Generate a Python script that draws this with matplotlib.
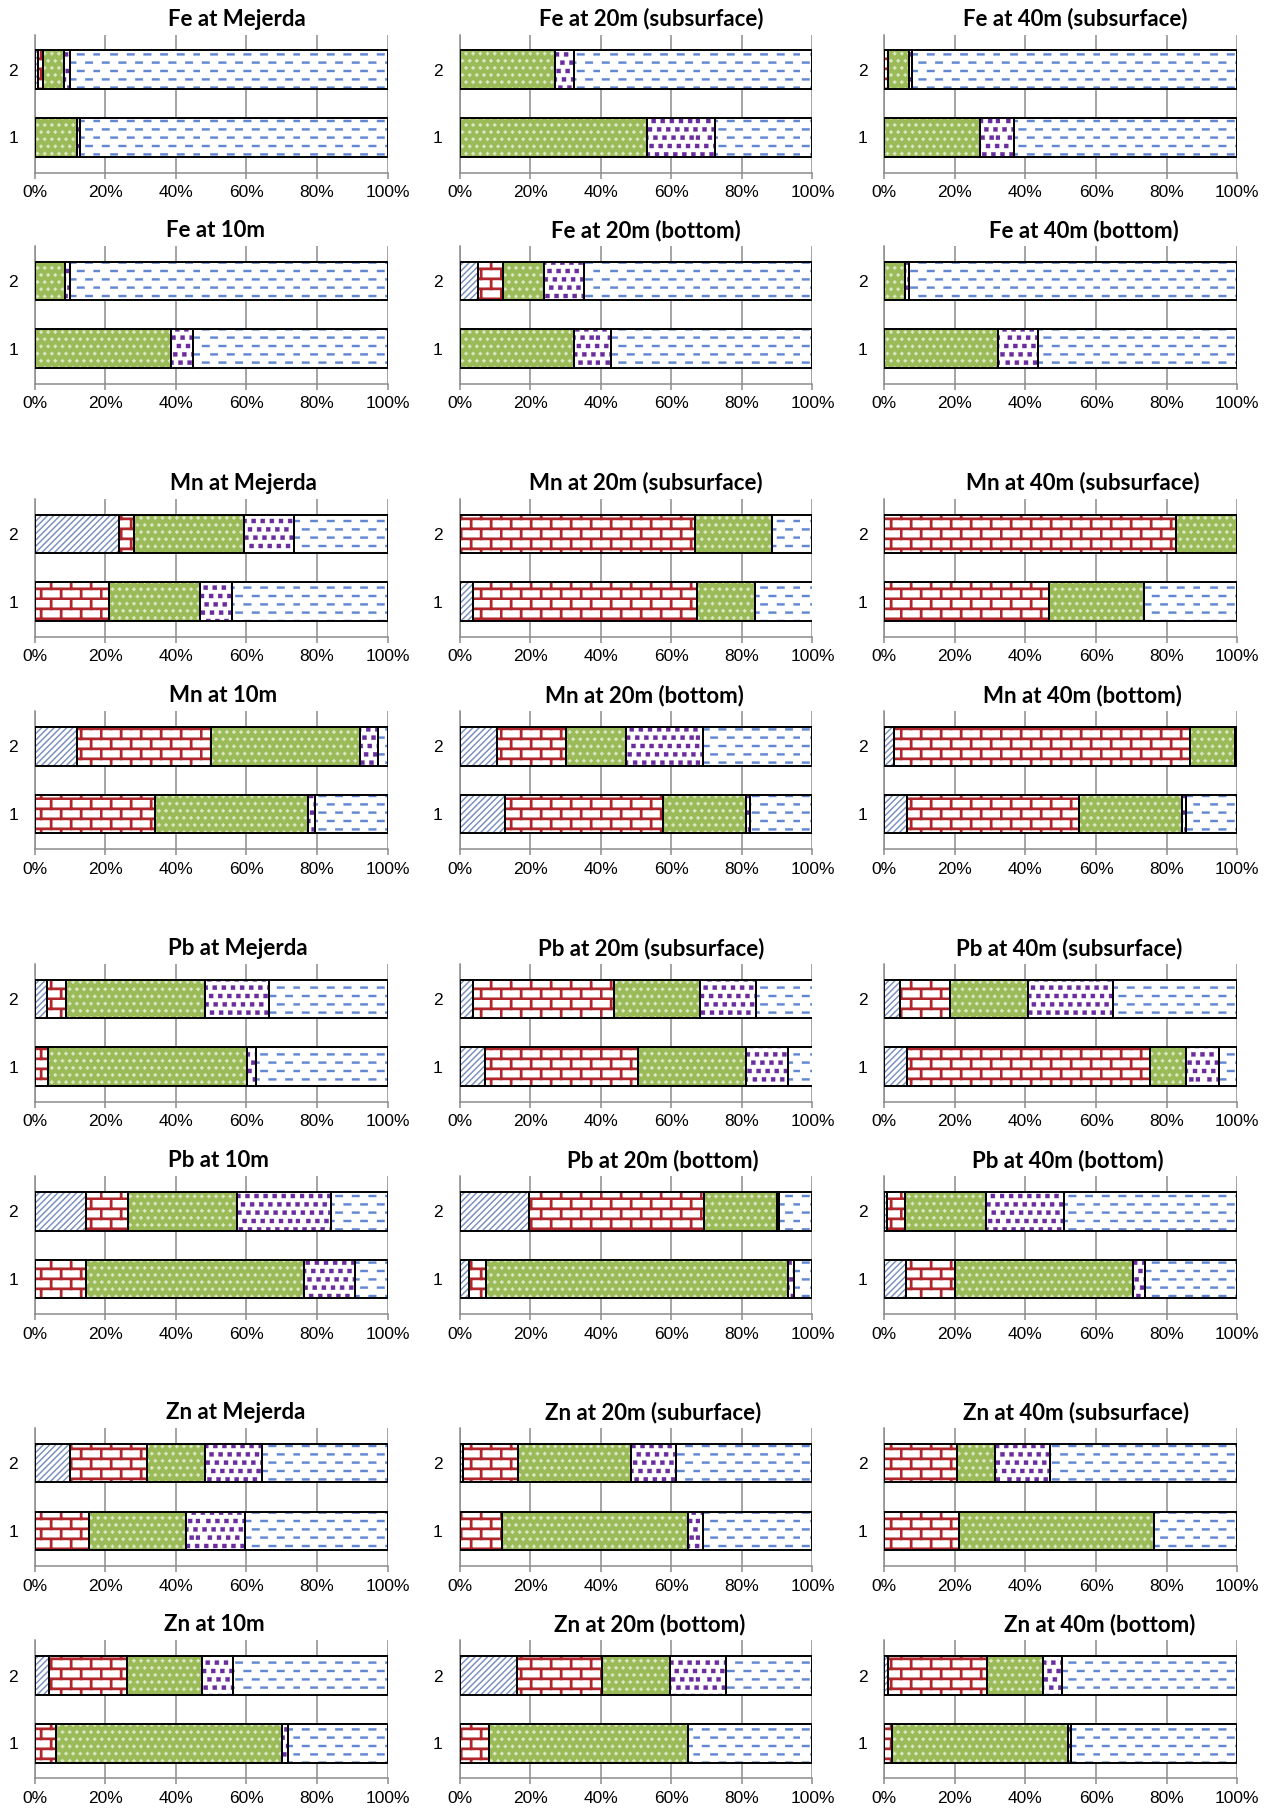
import warnings
import numpy as np
import matplotlib
matplotlib.use("Agg")
import matplotlib.pyplot as plt
from matplotlib import hatch as mhatch
from matplotlib.path import Path

warnings.filterwarnings("ignore")

fractions = ["Exchangeable", "Carbonate", "Fe-Mn oxides", "Organic", "Residual"]

sites = ["Mejerda", "20m (subsurface)", "40m (subsurface)",
         "10m", "20m (bottom)", "40m (bottom)"]
zn_sites = ["Mejerda", "20m (suburface)", "40m (subsurface)",
            "10m", "20m (bottom)", "40m (bottom)"]
metals = ["Fe", "Mn", "Pb", "Zn"]

# % per fraction, bar "1" then bar "2", one row per site
fe_1 = [[0, 0, 12, 1, 87], [0, 0, 53, 19.5, 27.5], [0, 0, 27.2, 9.5, 63.3],
        [0, 0, 38.6, 6.2, 55.2], [0, 0, 32.5, 10.3, 57.2], [0, 0, 32.1, 11.5, 56.4]]
fe_2 = [[1, 1.4, 5.9, 1.6, 90.1], [0, 0, 27, 5.5, 67.5], [0, 1.1, 6, 0.7, 92.2],
        [0, 0, 8.5, 1.5, 90], [5.2, 7.2, 11.6, 11.2, 64.8], [0, 0, 5.9, 1, 93.1]]

mn_1 = [[0, 21.1, 25.7, 9, 44.2], [3.9, 63.4, 16.3, 0, 16.4], [0, 46.6, 26.9, 0, 26.5],
        [0, 34, 43.5, 2, 20.5], [12.9, 44.8, 23.6, 1.1, 17.6], [6.4, 48.8, 29.3, 1.1, 14.4]]
mn_2 = [[23.9, 4.4, 31, 14.1, 26.6], [0, 66.7, 21.9, 0, 11.4], [0, 82.6, 17.4, 0, 0],
        [12.1, 37.9, 42.2, 5.2, 2.6], [10.5, 19.8, 16.8, 21.9, 31], [2.8, 83.9, 12.8, 0.5, 0]]

pb_1 = [[0, 3.9, 56.2, 2.6, 37.3], [7.2, 43.5, 30.4, 12.1, 6.8], [6.4, 68.9, 10.2, 9.3, 5.2],
        [0, 14.7, 61.5, 14.7, 9.1], [2.6, 4.9, 85.6, 1.6, 5.3], [6.2, 13.8, 50.5, 3.4, 26.1]]
pb_2 = [[3.6, 5.2, 39.5, 18, 33.7], [3.9, 39.9, 24.2, 16, 16], [4.6, 14, 22.1, 24.1, 35.2],
        [14.5, 12.1, 30.6, 26.7, 16.1], [19.6, 49.7, 20.6, 0.7, 9.4], [0.9, 5, 22.9, 22.1, 49.1]]

zn_1 = [[0, 15.4, 27.4, 16.7, 40.5], [0, 12, 52.7, 4.2, 31.1], [0, 21.3, 55.1, 0, 23.6],
        [0, 6.2, 64, 1.6, 28.2], [0, 8.4, 56.3, 0, 35.3], [0, 2.3, 49.8, 0.7, 47.2]]
zn_2 = [[9.9, 22, 16.4, 16.1, 35.6], [1.1, 15.4, 32, 12.9, 38.6], [0, 20.7, 10.8, 15.4, 53.1],
        [4, 22.1, 21.3, 8.9, 43.7], [16.2, 24.1, 19.4, 15.9, 24.4], [1, 28.2, 15.7, 5.6, 49.5]]


# Excel-like fill patterns as custom hatches (filled polygons in a unit tile)
class PolyHatch(mhatch.HatchPatternBase):
    char = "?"

    def __init__(self, hatch, density):
        self.polys = self.make() if (hatch and self.char in hatch) else []
        self.num_vertices = 5 * len(self.polys)

    def make(self):
        return []

    def set_vertices_and_codes(self, vertices, codes):
        for k, pts in enumerate(self.polys):
            vertices[5 * k:5 * k + 5] = list(pts) + [pts[0]]
            codes[5 * k:5 * k + 5] = [Path.MOVETO, Path.LINETO, Path.LINETO,
                                      Path.LINETO, Path.CLOSEPOLY]


def rect(x, y, w, h):
    return [(x, y), (x + w, y), (x + w, y + h), (x, y + h)]


class DiagHatch(PolyHatch):
    char = "w"

    def make(self):
        n, w = 16, 0.013
        return [[(c, 0), (c + w, 0), (c + w + 1, 1), (c + 1, 1)]
                for c in np.arange(-1, 1, 1 / n)]


class BrickHatch(PolyHatch):
    char = "b"

    def make(self):
        rows, cols, t = 10, 5, 0.022
        out = []
        for i in range(rows):
            out.append(rect(0, i / rows, 1, t))
            for j in range(cols):
                out.append(rect((j + 0.5 * (i % 2)) / cols, i / rows, t, 1 / rows))
        return out


class CrossHatch(PolyHatch):
    char = "g"

    def make(self):
        rows, cols = 14, 14
        out = []
        for i in range(rows):
            for j in range(cols):
                x = (j + 0.5 * (i % 2) + 0.25) / cols
                y = (i + 0.5) / rows
                out.append(rect(x - 0.016, y - 0.005, 0.032, 0.01))
                out.append(rect(x - 0.005, y - 0.016, 0.01, 0.032))
        return out


class DotHatch(PolyHatch):
    char = "q"

    def make(self):
        rows, cols, s = 12, 11, 0.04
        out = []
        for i in range(rows):
            off = (i * 0.41) % 1
            for j in range(cols):
                x = ((j + off) / cols) % 1
                out.append(rect(min(x, 1 - s), i / rows + 0.02, s, s))
        return out


class DashHatch(PolyHatch):
    char = "d"

    def make(self):
        rows, cols = 12, 6
        out = []
        for i in range(rows):
            for j in range(cols):
                out.append(rect((j + 0.5 * (i % 2)) / cols + 0.02, i / rows + 0.03, 0.075, 0.02))
        return out


mhatch._hatch_types += [DiagHatch, BrickHatch, CrossHatch, DotHatch, DashHatch]
plt.rcParams["hatch.linewidth"] = 0.3

faces = ["white", "white", "#9BBB59", "white", "white"]
hatch_cols = ["#6F86B6", "#B0262B", "#DCE8C6", "#6A2C9E", "#6287D2"]
hatches = ["w", "b", "g", "q", "d"]

grid_col = "#8C8C8C"

W, H = 1271, 1810
fig = plt.figure(figsize=(W / 100, H / 100), dpi=100)

col_left = [34.6, 459.5, 884.2]
ax_w = 353
row_top = [34.6, 245.9, 498.7, 711.1, 963.9, 1176.3, 1428, 1640.4]
ax_h = 138

# title centres as fraction of the axes width (titles were placed by hand)
title_x = [[0.572, 0.542, 0.541, 0.513, 0.527, 0.567],
           [0.591, 0.529, 0.564, 0.533, 0.523, 0.561],
           [0.575, 0.542, 0.525, 0.520, 0.575, 0.521],
           [0.569, 0.549, 0.544, 0.510, 0.539, 0.610]]

all_1 = [fe_1, mn_1, pb_1, zn_1]
all_2 = [fe_2, mn_2, pb_2, zn_2]

for m, metal in enumerate(metals):
    names = zn_sites if metal == "Zn" else sites
    for p in range(6):
        r = 2 * m + p // 3
        c = p % 3
        ax = fig.add_axes([col_left[c] / W, 1 - (row_top[r] + ax_h) / H, ax_w / W, ax_h / H])

        data = np.array([all_1[m][p], all_2[m][p]], dtype=float)
        data = data / data.sum(axis=1, keepdims=True) * 100
        left = np.zeros(2)
        for k in range(len(fractions)):
            ax.barh([1, 2], data[:, k], left=left, height=0.57, color=faces[k],
                    edgecolor=hatch_cols[k], hatch=hatches[k], linewidth=0, zorder=2)
            ax.barh([1, 2], data[:, k], left=left, height=0.57, fill=False,
                    edgecolor="black", linewidth=1.4, zorder=3)
            left += data[:, k]

        ax.set_xlim(0, 100)
        ax.set_ylim(0.48, 2.52)
        ax.set_xticks(range(0, 101, 20))
        ax.set_xticklabels([f"{v}%" for v in range(0, 101, 20)], family="Liberation Sans")
        ax.set_yticks([1, 2])
        ax.set_yticklabels(["1", "2"], family="Liberation Sans")
        ax.grid(axis="x", color=grid_col, linewidth=1.1, zorder=0)
        ax.set_axisbelow(True)
        for s in ["top", "right"]:
            ax.spines[s].set_visible(False)
        for s in ["left", "bottom"]:
            ax.spines[s].set_color(grid_col)
            ax.spines[s].set_linewidth(1.1)
        ax.tick_params(axis="x", length=4, width=1.1, color=grid_col, pad=5, labelsize=12.5)
        ax.tick_params(axis="y", length=0, pad=12, labelsize=12.5)

        ax.text(title_x[m][p], 1 + 9 / ax_h, f"{metal} at {names[p]}", transform=ax.transAxes,
                ha="center", va="baseline", fontsize=16, fontweight="bold",
                family=["Lato", "DejaVu Sans"])

fig.savefig("out.png", dpi=100)
